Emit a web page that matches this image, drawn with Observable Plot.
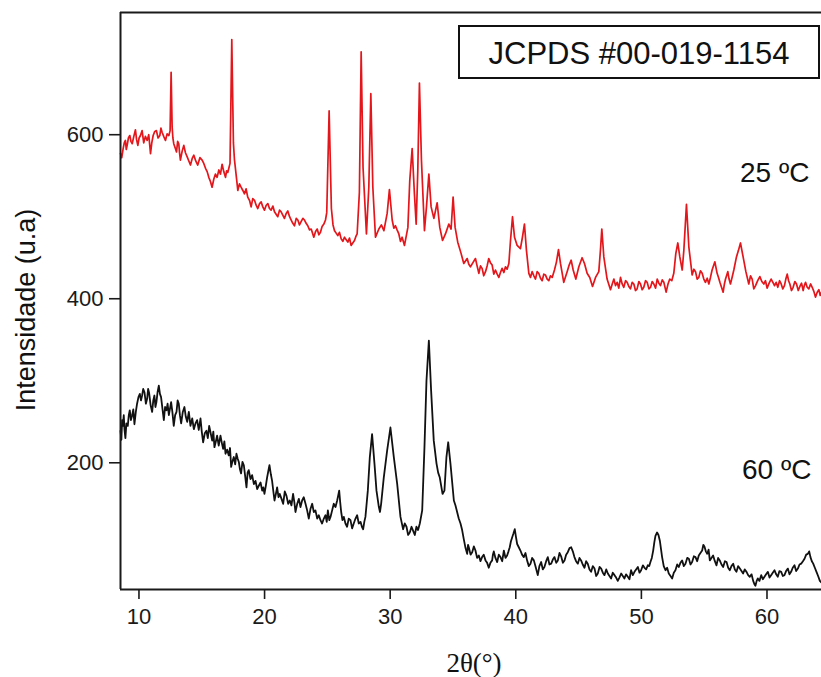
<!DOCTYPE html>
<html>
<head>
<meta charset="utf-8">
<script src="https://cdn.jsdelivr.net/npm/d3@7"></script>
<script src="https://cdn.jsdelivr.net/npm/@observablehq/plot@0.6"></script>
<style>
  html, body { margin: 0; padding: 0; background: #fff; }
  #wrap { position: relative; width: 821px; height: 677px; overflow: hidden; font-family: "Liberation Sans", Arial, sans-serif; color: #111; }
  #wrap svg { display: block; }
  .ov { position: absolute; white-space: nowrap; }
</style>
</head>
<body>
<div id="wrap"></div>
<script>
// 2θ (degrees) and intensity (u.a) pairs
const pattern25C = [[8.53,577],[8.63,572],[8.74,583],[8.83,590],[8.92,593],[8.99,582],[9.06,587],[9.16,596],[9.27,599],[9.36,592],[9.46,589],[9.59,598],[9.72,606],[9.81,594],[9.91,587],[10.01,596],[10.12,599],[10.25,605],[10.38,590],[10.51,598],[10.65,593],[10.78,600],[10.92,577],[11.02,590],[11.13,599],[11.26,604],[11.39,605],[11.52,596],[11.66,599],[11.75,608],[11.84,603],[11.97,598],[12.11,593],[12.24,601],[12.38,599],[12.48,605],[12.56,676],[12.64,610],[12.70,596],[12.77,589],[12.88,584],[12.99,579],[13.08,592],[13.17,589],[13.23,578],[13.30,569],[13.44,580],[13.57,587],[13.70,578],[13.84,573],[13.97,568],[14.10,563],[14.24,571],[14.37,575],[14.52,568],[14.68,563],[14.85,572],[15.03,569],[15.16,565],[15.30,559],[15.43,555],[15.56,548],[15.69,543],[15.82,536],[15.96,546],[16.09,552],[16.22,548],[16.36,557],[16.49,552],[16.62,564],[16.75,555],[16.89,548],[16.98,556],[17.07,554],[17.17,560],[17.25,565],[17.39,716],[17.52,590],[17.60,570],[17.68,559],[17.78,545],[17.87,532],[18.00,540],[18.13,536],[18.27,532],[18.40,528],[18.53,534],[18.66,524],[18.80,520],[18.93,512],[19.06,522],[19.20,520],[19.33,514],[19.46,510],[19.60,516],[19.73,518],[19.86,512],[19.99,508],[20.13,514],[20.26,516],[20.39,510],[20.52,508],[20.66,513],[20.79,506],[20.92,503],[21.05,500],[21.19,508],[21.32,506],[21.45,502],[21.58,498],[21.72,504],[21.85,507],[21.99,500],[22.12,496],[22.25,492],[22.38,489],[22.52,498],[22.65,496],[22.78,490],[22.91,494],[23.05,498],[23.18,496],[23.31,492],[23.44,489],[23.58,484],[23.71,485],[23.82,480],[23.92,475],[24.06,482],[24.19,485],[24.32,478],[24.45,481],[24.58,488],[24.72,491],[24.85,496],[24.95,505],[25.14,629],[25.32,510],[25.45,490],[25.57,483],[25.70,480],[25.83,477],[25.96,481],[26.10,473],[26.23,470],[26.36,475],[26.50,472],[26.63,469],[26.76,474],[26.89,465],[27.02,468],[27.16,471],[27.27,476],[27.37,479],[27.55,530],[27.69,701],[27.84,560],[28.11,479],[28.30,536],[28.46,650],[28.62,536],[28.83,475],[28.96,480],[29.10,485],[29.30,490],[29.50,483],[29.76,504],[29.94,533],[30.16,496],[30.29,486],[30.42,489],[30.55,484],[30.69,479],[30.82,470],[30.95,475],[31.14,465],[31.41,487],[31.56,544],[31.75,583],[31.93,528],[32.07,491],[32.20,557],[32.33,663],[32.49,569],[32.73,483],[32.89,512],[33.08,552],[33.26,512],[33.48,498],[33.74,517],[33.95,487],[34.17,471],[34.40,479],[34.67,491],[34.85,485],[35.01,524],[35.17,487],[35.38,469],[35.65,455],[35.86,443],[36.13,449],[36.26,442],[36.39,439],[36.59,444],[36.79,449],[36.92,440],[37.06,431],[37.19,440],[37.32,437],[37.45,428],[37.59,433],[37.72,440],[37.85,449],[37.98,444],[38.12,441],[38.25,430],[38.38,435],[38.52,430],[38.65,426],[38.78,432],[38.91,437],[39.05,432],[39.18,439],[39.31,436],[39.45,443],[39.58,471],[39.74,500],[39.90,475],[40.11,465],[40.37,461],[40.53,475],[40.69,491],[40.85,459],[41.04,431],[41.17,426],[41.30,433],[41.44,428],[41.57,424],[41.70,433],[41.83,431],[41.97,425],[42.10,422],[42.23,430],[42.36,429],[42.50,424],[42.63,422],[42.76,428],[42.90,426],[43.08,435],[43.24,445],[43.40,460],[43.56,443],[43.82,420],[44.09,433],[44.25,441],[44.41,447],[44.57,435],[44.78,424],[45.02,439],[45.28,450],[45.47,443],[45.68,431],[45.89,426],[46.11,415],[46.35,426],[46.61,433],[46.74,459],[46.85,485],[47.01,451],[47.27,424],[47.54,411],[47.68,418],[47.81,424],[47.94,416],[48.07,420],[48.20,413],[48.34,426],[48.47,418],[48.60,414],[48.74,422],[48.87,420],[49.00,415],[49.13,412],[49.27,420],[49.40,418],[49.53,410],[49.66,412],[49.80,421],[49.93,418],[50.06,411],[50.19,414],[50.33,422],[50.46,420],[50.60,412],[50.73,414],[50.86,421],[50.99,418],[51.13,413],[51.26,424],[51.39,419],[51.52,416],[51.66,423],[51.79,420],[51.97,408],[52.12,418],[52.26,424],[52.42,422],[52.58,431],[52.74,455],[52.90,468],[53.06,451],[53.25,435],[53.38,459],[53.59,515],[53.78,463],[54.04,429],[54.18,436],[54.31,433],[54.44,424],[54.57,426],[54.70,434],[54.84,431],[54.97,424],[55.10,420],[55.24,425],[55.37,418],[55.50,426],[55.63,435],[55.85,445],[56.03,431],[56.14,426],[56.25,420],[56.38,414],[56.51,408],[56.61,418],[56.70,424],[56.88,433],[56.98,424],[57.09,418],[57.22,426],[57.36,435],[57.57,451],[57.73,459],[57.89,468],[58.10,451],[58.32,433],[58.55,418],[58.69,428],[58.82,424],[58.95,412],[59.09,416],[59.26,422],[59.43,427],[59.59,421],[59.75,418],[59.88,422],[60.01,413],[60.17,419],[60.33,424],[60.47,420],[60.60,416],[60.73,420],[60.86,414],[61.00,422],[61.13,418],[61.26,412],[61.39,416],[61.50,424],[61.61,430],[61.72,422],[61.82,418],[61.95,410],[62.08,414],[62.22,421],[62.35,418],[62.49,410],[62.62,415],[62.75,419],[62.88,410],[62.97,416],[63.07,420],[63.20,414],[63.33,412],[63.47,418],[63.60,414],[63.73,409],[63.86,402],[64.00,408],[64.13,411],[64.24,404],[64.34,408]];

const pattern60C = [[8.53,239],[8.60,228],[8.66,252],[8.72,245],[8.79,258],[8.85,240],[8.92,230],[9.00,248],[9.11,245],[9.19,258],[9.27,264],[9.36,252],[9.46,258],[9.55,265],[9.64,247],[9.75,262],[9.85,272],[9.96,280],[10.07,284],[10.16,276],[10.25,282],[10.34,290],[10.44,286],[10.55,272],[10.65,278],[10.73,290],[10.81,285],[10.93,270],[11.05,262],[11.14,276],[11.23,282],[11.31,268],[11.39,274],[11.48,286],[11.58,294],[11.67,284],[11.76,280],[11.87,266],[11.98,252],[12.08,268],[12.19,264],[12.28,272],[12.38,258],[12.47,266],[12.56,274],[12.66,262],[12.77,245],[12.88,258],[12.99,262],[13.08,276],[13.17,272],[13.26,258],[13.36,248],[13.49,262],[13.62,268],[13.73,256],[13.84,250],[13.97,262],[14.10,245],[14.24,254],[14.37,241],[14.50,248],[14.63,252],[14.76,240],[14.90,254],[15.00,238],[15.11,225],[15.24,236],[15.37,239],[15.48,230],[15.59,245],[15.71,236],[15.83,227],[15.92,238],[16.01,219],[16.12,226],[16.22,233],[16.35,221],[16.49,233],[16.60,224],[16.70,217],[16.80,226],[16.89,211],[17.02,216],[17.15,209],[17.25,218],[17.34,195],[17.45,202],[17.55,207],[17.66,198],[17.76,211],[17.86,205],[17.95,201],[18.04,192],[18.13,187],[18.24,201],[18.35,197],[18.46,183],[18.56,170],[18.65,188],[18.74,191],[18.88,180],[19.01,185],[19.15,174],[19.28,178],[19.41,168],[19.54,172],[19.68,176],[19.81,166],[19.90,170],[19.99,162],[20.10,172],[20.20,182],[20.30,190],[20.39,197],[20.50,186],[20.60,178],[20.70,165],[20.79,154],[20.90,162],[21.00,170],[21.11,158],[21.21,162],[21.35,156],[21.48,150],[21.61,165],[21.74,160],[21.88,150],[22.01,154],[22.14,148],[22.27,162],[22.37,152],[22.46,140],[22.60,150],[22.73,156],[22.86,146],[22.99,154],[23.12,158],[23.26,150],[23.39,142],[23.52,132],[23.66,144],[23.79,150],[23.92,140],[24.05,142],[24.19,132],[24.32,136],[24.45,130],[24.58,126],[24.72,132],[24.85,136],[24.95,128],[25.04,142],[25.15,130],[25.25,134],[25.38,142],[25.51,150],[25.65,146],[25.78,154],[25.86,160],[25.94,166],[26.02,152],[26.10,140],[26.20,130],[26.31,134],[26.44,126],[26.57,122],[26.70,132],[26.84,130],[26.97,120],[27.10,126],[27.24,132],[27.37,136],[27.50,126],[27.64,128],[27.75,122],[27.85,119],[27.94,128],[28.03,134],[28.22,166],[28.38,207],[28.56,235],[28.75,199],[28.91,166],[29.10,146],[29.19,140],[29.28,150],[29.49,182],[29.76,215],[30.02,243],[30.29,207],[30.56,174],[30.82,134],[31.03,119],[31.16,126],[31.30,122],[31.43,112],[31.56,115],[31.70,122],[31.83,117],[31.96,112],[32.09,122],[32.22,118],[32.36,126],[32.55,142],[32.73,219],[32.89,300],[33.08,349],[33.26,288],[33.47,227],[33.69,199],[33.82,188],[33.95,182],[34.17,162],[34.32,166],[34.48,207],[34.62,225],[34.80,199],[35.07,154],[35.20,148],[35.33,140],[35.46,132],[35.60,126],[35.73,118],[35.86,107],[36.00,96],[36.13,89],[36.20,100],[36.26,97],[36.40,88],[36.53,91],[36.66,98],[36.79,93],[36.92,84],[37.06,87],[37.19,80],[37.32,85],[37.45,88],[37.59,81],[37.72,78],[37.85,72],[37.98,78],[38.12,81],[38.18,88],[38.25,92],[38.38,84],[38.52,79],[38.65,88],[38.78,85],[38.92,80],[39.05,93],[39.18,84],[39.31,87],[39.42,92],[39.52,97],[39.61,104],[39.71,109],[39.82,114],[39.92,119],[40.01,110],[40.11,101],[40.24,97],[40.37,93],[40.50,88],[40.64,85],[40.77,90],[40.90,81],[41.04,74],[41.17,77],[41.30,84],[41.44,81],[41.60,72],[41.75,63],[41.88,74],[42.02,79],[42.15,70],[42.28,73],[42.42,80],[42.55,85],[42.68,76],[42.82,77],[42.95,82],[43.08,85],[43.22,78],[43.35,81],[43.48,90],[43.61,86],[43.75,78],[43.88,81],[44.01,88],[44.14,91],[44.28,96],[44.41,97],[44.54,92],[44.67,85],[44.80,80],[44.94,77],[45.07,84],[45.20,81],[45.33,76],[45.47,72],[45.60,80],[45.73,77],[45.87,70],[46.00,67],[46.13,74],[46.27,71],[46.40,62],[46.53,65],[46.67,73],[46.80,71],[46.93,66],[47.06,63],[47.20,70],[47.33,65],[47.46,62],[47.59,59],[47.72,66],[47.86,63],[47.99,60],[48.12,56],[48.25,60],[48.39,65],[48.52,62],[48.65,59],[48.78,64],[48.92,61],[49.05,58],[49.18,69],[49.32,63],[49.45,67],[49.58,70],[49.72,73],[49.85,66],[49.98,69],[50.12,75],[50.25,72],[50.38,70],[50.51,75],[50.62,74],[50.72,79],[50.83,84],[50.94,93],[51.03,103],[51.12,111],[51.25,115],[51.36,112],[51.47,105],[51.56,95],[51.65,85],[51.78,74],[51.92,69],[52.05,72],[52.18,65],[52.32,62],[52.45,59],[52.58,66],[52.71,69],[52.85,76],[52.98,73],[53.11,78],[53.24,81],[53.38,74],[53.51,77],[53.65,84],[53.78,83],[53.91,76],[54.04,79],[54.18,86],[54.31,85],[54.44,80],[54.57,87],[54.70,90],[54.84,93],[54.93,100],[55.02,98],[55.13,92],[55.24,89],[55.35,94],[55.45,81],[55.58,84],[55.71,87],[55.85,80],[55.98,75],[56.11,84],[56.24,81],[56.38,76],[56.51,73],[56.65,80],[56.78,79],[56.91,72],[57.04,69],[57.17,74],[57.31,77],[57.44,70],[57.57,67],[57.70,74],[57.84,71],[57.97,68],[58.10,65],[58.23,70],[58.37,67],[58.50,63],[58.63,61],[58.77,64],[58.90,56],[59.00,52],[59.08,50],[59.18,56],[59.27,59],[59.40,56],[59.54,63],[59.67,58],[59.80,61],[59.93,64],[60.07,67],[60.20,60],[60.33,63],[60.46,66],[60.60,69],[60.73,64],[60.86,61],[60.99,68],[61.13,67],[61.26,62],[61.39,63],[61.52,68],[61.66,71],[61.79,64],[61.92,67],[62.05,72],[62.19,75],[62.32,68],[62.46,71],[62.59,76],[62.72,77],[62.86,80],[62.99,83],[63.12,88],[63.25,89],[63.36,92],[63.46,85],[63.57,80],[63.68,77],[63.81,72],[63.94,67],[64.07,62],[64.21,56],[64.34,54]];

const xTicks = [10, 20, 30, 40, 50, 60];
const yTicks = [200, 400, 600];
const xDomain = [8.53, 64.34];
const yDomain = [45.5, 749];
const seriesLabels = ["25 ºC", "60 ºC"];
const refLabel = "JCPDS #00-019-1154";
const xLabel = "2θ(°)";
const yLabel = "Intensidade (u.a)";

const toRows = (arr) => arr.map(([t, v]) => ({t, v}));

const chart = Plot.plot({
  width: 821,
  height: 677,
  marginLeft: 120,
  marginRight: 0,
  marginTop: 12,
  marginBottom: 88,
  style: {fontFamily: "'Liberation Sans', Arial, sans-serif", fontSize: "22px", color: "#1a1a1a", background: "#fff", overflow: "visible"},
  x: {domain: xDomain},
  y: {domain: yDomain},
  marks: [
    Plot.line(toRows(pattern25C), {x: "t", y: "v", stroke: "#e3161b", strokeWidth: 1.7, strokeLinejoin: "round"}),
    Plot.line(toRows(pattern60C), {x: "t", y: "v", stroke: "#111", strokeWidth: 1.8, strokeLinejoin: "round"}),
    Plot.ruleX([xDomain[0]], {stroke: "#1a1a1a", strokeWidth: 2}),
    Plot.ruleY([yDomain[0]], {stroke: "#1a1a1a", strokeWidth: 2}),
    Plot.ruleY([yDomain[1]], {stroke: "#1a1a1a", strokeWidth: 2}),
    Plot.axisX(xTicks, {tickSize: 10, tickPadding: 9, strokeWidth: 1.6, fontSize: 22, label: null}),
    Plot.axisY(yTicks, {tickSize: 11, tickPadding: 6, strokeWidth: 1.6, fontSize: 22, label: null})
  ]
});

const wrap = document.getElementById("wrap");
wrap.appendChild(chart);

function addOverlay(text, css) {
  const el = document.createElement("div");
  el.className = "ov";
  el.textContent = text;
  el.style.cssText += css;
  wrap.appendChild(el);
  return el;
}

// reference card
addOverlay(refLabel, "left:458px;top:25px;width:362px;height:54px;box-sizing:border-box;border:2px solid #111;background:#fff;text-align:center;font-size:31px;line-height:54px;");
// series labels
addOverlay(seriesLabels[0], "left:740px;top:159px;font-size:28px;line-height:28px;");
addOverlay(seriesLabels[1], "left:742px;top:456px;font-size:28px;line-height:28px;");
// axis titles
addOverlay(xLabel, "left:474px;top:650px;transform:translateX(-50%);font-family:'Liberation Serif','Times New Roman',serif;font-size:27px;line-height:27px;");
addOverlay(yLabel, "left:26px;top:310px;font-size:27px;line-height:27px;transform:translate(-50%,-50%) rotate(-90deg);");
</script>
</body>
</html>
